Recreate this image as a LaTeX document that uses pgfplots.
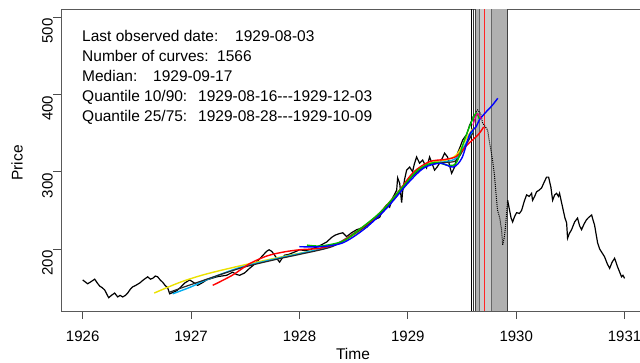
\documentclass[border=0pt]{standalone}
\usepackage{pgfplots}
\pgfplotsset{compat=1.18}
\usepackage{fontspec}
\setmainfont{Liberation Sans}
\definecolor{ryellow}{RGB}{235,225,0}
\definecolor{rgreen}{RGB}{0,190,0}
\begin{document}
\begin{tikzpicture}[x=1pt,y=1pt]
\useasboundingbox (0,0) rectangle (640,363);
\clip (0,0) rectangle (640,363);
\begin{axis}[at={(61pt,52pt)}, anchor=south west, scale only axis,
  width=582pt, height=302pt,
  xmin=1925.8, xmax=1931.17, ymin=119.8, ymax=510.5,
  xtick={1926,1927,1928,1929,1930,1931}, ytick={200,300,400,500},
  xtick pos=bottom, ytick pos=left, tick align=outside, major tick length=8pt,
  axis line style={black!65, line width=0.9pt},
  tick style={black!70, line width=0.9pt},
  /pgf/number format/assume math mode=true,
  /pgf/number format/1000 sep={},
  xticklabel style={font=\fontsize{15}{17}\selectfont, inner sep=0pt, anchor=north, yshift=-12pt},
  yticklabel style={font=\fontsize{15}{17}\selectfont, inner sep=0pt, rotate=90, anchor=south, xshift=-14pt},
  clip=true,
]
% quantile bands
\addplot[fill=gray!62, draw=none] coordinates {(1929.622,119.8) (1929.922,119.8) (1929.922,510.5) (1929.622,510.5)} -- cycle;
\addplot[fill=gray!40, draw=none] coordinates {(1929.655,119.8) (1929.770,119.8) (1929.770,510.5) (1929.655,510.5)} -- cycle;
\addplot[black, line width=0.8pt] coordinates {(1929.586,119.8) (1929.586,510.5)};
\addplot[black!80, line width=0.6pt] coordinates {(1929.600,119.8) (1929.600,510.5)};
\addplot[black!75, line width=0.6pt] coordinates {(1929.622,119.8) (1929.622,510.5)};
\addplot[black!60, line width=0.5pt] coordinates {(1929.655,119.8) (1929.655,510.5)};
\addplot[black!60, line width=0.6pt] coordinates {(1929.770,119.8) (1929.770,510.5)};
\addplot[black!75, line width=0.7pt] coordinates {(1929.922,119.8) (1929.922,510.5)};
\addplot[red!85!white, line width=0.9pt] coordinates {(1929.710,119.8) (1929.710,510.5)};
% observed series
\addplot[black, line width=1.2pt] coordinates {
(1926.000,160)(1926.046,155)(1926.080,158)(1926.111,161)(1926.135,156)(1926.157,152)(1926.180,150)(1926.203,147)(1926.225,141)(1926.240,137)
(1926.265,140)(1926.295,143)(1926.323,138)(1926.345,140)(1926.369,138)(1926.395,140)(1926.415,143)(1926.440,148)(1926.461,151)(1926.490,153)
(1926.526,156)(1926.560,160)(1926.600,164)(1926.625,161)(1926.646,162)(1926.670,165)(1926.692,164)(1926.715,160)(1926.738,157)(1926.760,153)
(1926.784,150)(1926.803,142)(1926.835,144)(1926.867,146)(1926.900,150)(1926.941,156)(1926.965,158)(1926.987,160)(1927.020,157)(1927.061,153)
(1927.100,156)(1927.144,160)(1927.190,162)(1927.236,164)(1927.280,165)(1927.328,166)(1927.384,170)(1927.420,167)(1927.448,166)(1927.494,169)
(1927.540,175)(1927.575,179)(1927.605,183)(1927.630,187)(1927.651,190)(1927.697,197)(1927.720,199)(1927.744,197)(1927.771,192)(1927.795,187)
(1927.817,183)(1927.840,188)(1927.863,192)(1927.900,193)(1927.937,195)(1927.970,197)(1928.002,199)(1928.050,198)(1928.094,199)(1928.130,201)
(1928.168,203)(1928.210,206)(1928.251,209)(1928.297,215)(1928.330,218)(1928.371,220)(1928.399,221)(1928.435,216)(1928.480,221)(1928.528,225)
(1928.570,227)(1928.620,228)(1928.650,233)(1928.675,237)(1928.710,239)(1928.740,241)(1928.768,250)(1928.804,257)(1928.832,254)(1928.860,266)
(1928.897,276)(1928.906,292)(1928.925,285)(1928.943,260)(1928.952,274)(1928.970,290)(1928.989,302)(1929.017,306)(1929.044,300)(1929.060,310)
(1929.081,319)(1929.109,311)(1929.137,315)(1929.173,305)(1929.201,319)(1929.225,310)(1929.247,302)(1929.270,306)(1929.293,311)(1929.320,318)
(1929.339,324)(1929.367,319)(1929.385,308)(1929.404,298)(1929.432,306)(1929.459,324)(1929.485,333)(1929.506,341)(1929.542,348)(1929.570,360)
(1929.586,365)};
\addplot[black, line width=1pt, densely dotted] coordinates {
(1929.586,365)(1929.600,372)(1929.616,370)(1929.630,378)(1929.644,380)(1929.672,375)(1929.690,363)(1929.736,354)(1929.755,337)(1929.782,315)
(1929.801,293)(1929.819,263)(1929.828,250)(1929.847,241)(1929.865,225)(1929.875,205)(1929.890,215)(1929.902,230)(1929.921,263)};
\addplot[black, line width=1.2pt] coordinates {
(1929.921,263)(1929.939,250)(1929.953,240)(1929.967,235)(1929.985,242)(1930.004,247)(1930.030,246)(1930.050,250)(1930.075,262)(1930.096,270)
(1930.120,268)(1930.142,272)(1930.151,263)(1930.170,268)(1930.188,274)(1930.210,276)(1930.234,279)(1930.260,287)(1930.280,293)(1930.299,293)
(1930.320,280)(1930.336,263)(1930.355,270)(1930.373,272)(1930.390,268)(1930.400,272)(1930.428,254)(1930.450,240)(1930.465,234)(1930.474,214)
(1930.490,220)(1930.511,225)(1930.539,235)(1930.555,238)(1930.566,240)(1930.585,230)(1930.603,225)(1930.625,232)(1930.649,238)(1930.670,241)
(1930.696,244)(1930.710,237)(1930.723,231)(1930.751,208)(1930.770,200)(1930.788,196)(1930.815,190)(1930.840,181)(1930.862,175)(1930.885,183)
(1930.908,188)(1930.935,177)(1930.955,170)(1930.972,164)(1930.985,166)(1931.000,162)};
% fitted curves
\addplot[ryellow, line width=1.4pt, smooth] coordinates {
(1926.66,143)(1926.90,157)(1927.15,168)(1927.54,181)(1927.91,192)(1928.20,200)(1928.37,208)(1928.55,222)(1928.70,240)(1928.90,270)
(1929.05,296)(1929.20,311)(1929.35,315)(1929.45,322)(1929.55,345)(1929.60,356)};
\addplot[cyan, line width=1.4pt, smooth] coordinates {
(1926.83,142)(1927.00,151)(1927.14,160)(1927.45,176)(1927.80,188)(1928.00,194)(1928.30,204)(1928.50,220)(1928.70,240)(1928.90,271)
(1929.05,297)(1929.20,310)(1929.35,313)(1929.45,318)(1929.55,340)(1929.60,352)};
\addplot[black!85, line width=1.2pt, smooth] coordinates {
(1926.80,144)(1927.00,154)(1927.45,175)(1927.80,187)(1928.00,193)(1928.30,203)(1928.50,219)(1928.70,239)(1928.90,269)
(1929.05,295)(1929.20,309)(1929.35,312)(1929.45,315)(1929.55,338)(1929.60,350)};
\addplot[red, line width=1.4pt, smooth] coordinates {
(1927.20,153)(1927.38,166)(1927.54,181)(1927.70,191)(1927.85,196)(1928.00,199)(1928.19,201)(1928.35,207)(1928.50,220)(1928.70,241)
(1928.90,272)(1929.05,299)(1929.20,313)(1929.35,316)(1929.45,320)(1929.55,335)(1929.65,348)(1929.70,358)};
\addplot[rgreen, line width=1.4pt, smooth] coordinates {
(1928.07,205)(1928.20,204)(1928.40,210)(1928.55,225)(1928.75,248)(1928.95,280)(1929.10,303)(1929.25,312)(1929.38,308)(1929.45,312)
(1929.52,340)(1929.58,362)(1929.63,376)(1929.66,368)};
\addplot[blue, line width=1.4pt, smooth] coordinates {
(1928.00,203)(1928.20,203)(1928.40,208)(1928.60,226)(1928.80,252)(1929.00,285)(1929.15,305)(1929.30,311)(1929.42,306)(1929.50,318)
(1929.57,348)(1929.63,358)(1929.66,367)(1929.72,377)(1929.78,386)(1929.83,395)};
\addplot[magenta, line width=1.2pt, smooth] coordinates {(1929.60,360)(1929.64,375)(1929.68,368)};
\end{axis}
% text block
\begin{scope}[every node/.style={inner sep=0pt, anchor=base west, font=\fontsize{15.5}{18}\selectfont}]
\node at (82,321) {Last observed date:};
\node at (235,321) {1929-08-03};
\node at (82,301) {Number of curves:};
\node at (217,301) {1566};
\node at (82,281) {Median:};
\node at (153,281) {1929-09-17};
\node at (82,261) {Quantile 10/90:};
\node at (198,261) {1929-08-16-{}-{}-1929-12-03};
\node at (82,241) {Quantile 25/75:};
\node at (198,241) {1929-08-28-{}-{}-1929-10-09};
\end{scope}
\node[rotate=90, font=\fontsize{15.5}{18}\selectfont, inner sep=0pt] at (17,200) {Price};
\node[font=\fontsize{15.5}{18}\selectfont, inner sep=0pt] at (353,9) {Time};
\end{tikzpicture}
\end{document}
